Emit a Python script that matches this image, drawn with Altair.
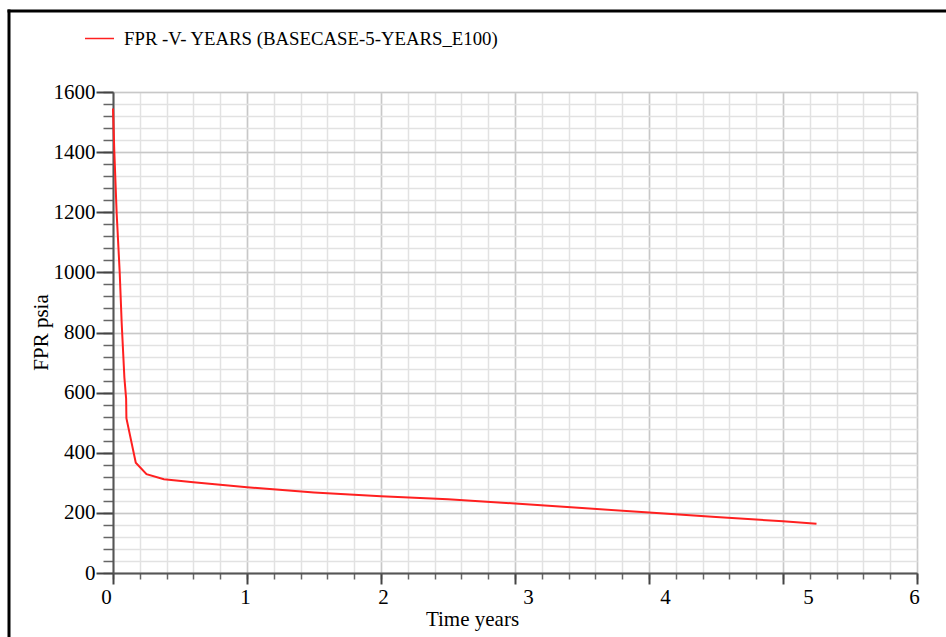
import altair as alt
import pandas as pd

# Flowing pressure (psia) against simulated time (years)
years = [0.0, 0.01, 0.027, 0.05, 0.065, 0.085, 0.098, 0.1, 0.17, 0.25, 0.38,
         0.6, 1.0, 1.5, 2.0, 2.5, 3.0, 3.5, 4.0, 4.5, 5.0, 5.25]
fpr = [1545, 1400, 1200, 1000, 830, 650, 580, 515, 367, 329, 312,
       302, 285, 268, 255, 245, 231, 216, 201, 186, 172, 164]
series = "FPR -V- YEARS (BASECASE-5-YEARS_E100)"

x_major = [0, 1, 2, 3, 4, 5, 6]
x_minor = [i / 5 for i in range(31)]
y_major = [0, 200, 400, 600, 800, 1000, 1200, 1400, 1600]
y_minor = [i * 40 for i in range(41)]

# horizontal nudge (px) of each year label, in year order
x_label_nudge = [-7, -2, 2, 13, 16, 25, -3]

df = pd.DataFrame({"years": years, "fpr": fpr, "series": series})

FONT = "Liberation Serif"
W, H = 804, 481

xscale = alt.Scale(domain=[0, 6], nice=False, zero=False)
yscale = alt.Scale(domain=[0, 1600], nice=False)

base = alt.Chart(df)

# light minor grid with short ticks
minor = base.mark_line(opacity=0).encode(
    x=alt.X("years:Q", scale=xscale,
            axis=alt.Axis(orient="bottom", values=x_minor, grid=True,
                          gridColor="#e2e2e2", gridWidth=1.5, domain=False,
                          labels=False, tickSize=6, tickColor="#666666",
                          tickWidth=1.5, title=None)),
    y=alt.Y("fpr:Q", scale=yscale,
            axis=alt.Axis(orient="left", values=y_minor, grid=True,
                          gridColor="#e2e2e2", gridWidth=1.5, domain=False,
                          labels=False, tickSize=10, tickColor="#666666",
                          tickWidth=1.5, title=None)),
)

nudge_expr = "[" + ",".join(str(v) for v in x_label_nudge) + "][datum.value]"

# main series with major grid, labels and titles
major = base.mark_line(color="#ff2020", strokeWidth=2).encode(
    x=alt.X("years:Q", scale=xscale,
            axis=alt.Axis(orient="bottom", values=x_major, grid=True,
                          format="d",
                          gridColor="#c8c8c8", gridWidth=1.5, domain=True,
                          domainColor="#555555", domainWidth=2,
                          tickSize=11, tickColor="#444444", tickWidth=2,
                          labelPadding=2, labelFontSize=21, labelFont=FONT,
                          labelColor="black", labelFlush=False,
                          labelOffset=alt.ExprRef(nudge_expr),
                          title="Time years", titleFont=FONT, titleFontSize=21,
                          titleFontWeight="normal", titleColor="black",
                          titleX=359, titleY=52, titleBaseline="alphabetic")),
    y=alt.Y("fpr:Q", scale=yscale,
            axis=alt.Axis(orient="left", values=y_major, grid=True,
                          format="d",
                          gridColor="#c8c8c8", gridWidth=1.5, domain=True,
                          domainColor="#555555", domainWidth=2,
                          tickSize=17, tickColor="#444444", tickWidth=2,
                          labelPadding=1, labelFontSize=21, labelFont=FONT,
                          labelColor="black", labelFlush=False,
                          title="FPR psia", titleFont=FONT, titleFontSize=21,
                          titleFontWeight="normal", titleColor="black",
                          titleAngle=270, titleX=-66, titleY=240,
                          titleBaseline="alphabetic", titleAlign="center")),
    color=alt.Color("series:N", scale=alt.Scale(range=["#ff2020"]),
                    legend=alt.Legend(orient="none", legendX=-29, legendY=-69,
                                      title=None, symbolType="stroke",
                                      symbolSize=841, symbolStrokeWidth=1.5,
                                      labelFont=FONT, labelFontSize=18.8,
                                      labelColor="black", labelOffset=9,
                                      labelLimit=0, padding=0)),
)

# page frame along the top and left edges
one = alt.Data(values=[{"k": 1}])
frame_left = alt.Chart(one).mark_rule(color="black", strokeWidth=3).encode(
    x=alt.value(-104), y=alt.value(-82.5), y2=alt.value(H + 70))
frame_top = alt.Chart(one).mark_rule(color="black", strokeWidth=3).encode(
    x=alt.value(-105.5), x2=alt.value(W + 40), y=alt.value(-81))

chart = (
    alt.layer(minor, major, frame_left, frame_top)
    .resolve_axis(x="independent", y="independent")
    .properties(width=W, height=H,
                autosize=alt.AutoSizeParams(type="none"),
                padding={"left": 113, "top": 92, "right": 29, "bottom": 64},
                background="white")
    .configure_view(stroke=None)
)

chart.save("out.html", embed_options={"renderer": "svg", "actions": False})
